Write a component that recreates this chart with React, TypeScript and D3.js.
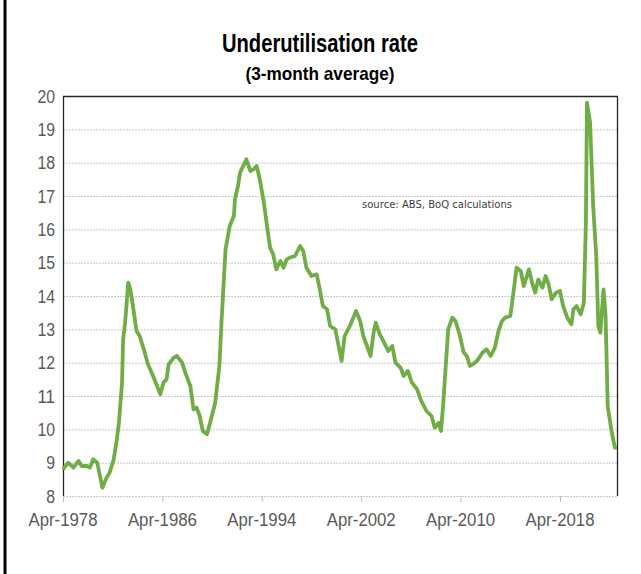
import { useEffect, useRef } from 'react';
import * as d3 from 'd3';

// Underutilisation rate, 3-month average (%)
const dates = [
  '1978-04', '1978-09', '1979-02', '1979-07', '1979-10', '1980-03', '1980-06', '1980-09',
  '1981-01', '1981-06', '1981-10', '1982-01', '1982-05', '1982-08', '1982-10', '1983-01',
  '1983-02', '1983-04', '1983-07', '1983-09', '1983-12', '1984-03', '1984-06', '1984-10',
  '1985-02', '1985-07', '1986-02', '1986-05', '1986-08', '1986-10', '1987-03', '1987-06',
  '1987-11', '1988-02', '1988-07', '1988-10', '1989-01', '1989-04', '1989-07', '1989-11',
  '1990-02', '1990-07', '1990-11', '1991-01', '1991-05', '1991-09', '1992-01', '1992-02',
  '1992-05', '1992-07', '1993-01', '1993-05', '1993-08', '1993-11', '1994-02', '1994-06',
  '1994-09', '1994-12', '1995-03', '1995-06', '1995-10', '1996-01', '1996-04', '1996-07',
  '1996-12', '1997-05', '1997-08', '1997-11', '1998-04', '1998-09', '1998-12', '1999-03',
  '1999-07', '1999-10', '2000-03', '2000-09', '2000-12', '2001-05', '2001-11', '2002-03',
  '2002-06', '2002-09', '2003-01', '2003-04', '2003-06', '2003-10', '2004-03', '2004-06',
  '2004-10', '2005-01', '2005-06', '2005-09', '2006-01', '2006-05', '2006-10', '2007-02',
  '2007-07', '2007-12', '2008-03', '2008-07', '2008-09', '2008-11', '2009-02', '2009-04',
  '2009-08', '2009-11', '2010-03', '2010-07', '2010-10', '2011-01', '2011-06', '2011-09',
  '2012-01', '2012-05', '2012-09', '2013-01', '2013-05', '2013-08', '2013-11', '2014-04',
  '2014-07', '2014-10', '2015-02', '2015-05', '2015-10', '2016-01', '2016-04', '2016-07',
  '2016-11', '2017-02', '2017-05', '2017-08', '2017-12', '2018-04', '2018-07', '2018-11',
  '2019-03', '2019-05', '2019-08', '2019-12', '2020-03', '2020-05', '2020-06', '2020-09',
  '2020-12', '2021-03', '2021-05', '2021-07', '2021-10', '2021-12', '2022-02', '2022-06',
  '2022-09', '2022-11',
];

const rates = [
  8.8, 9.0, 8.85, 9.05, 8.9, 8.9, 8.85, 9.1,
  9.0, 8.25, 8.55, 8.7, 9.1, 9.7, 10.2, 11.4,
  12.7, 13.2, 14.4, 14.2, 13.6, 12.95, 12.8, 12.4,
  11.95, 11.6, 11.05, 11.4, 11.5, 11.95, 12.15, 12.2,
  12.0, 11.7, 11.3, 10.6, 10.65, 10.4, 9.95, 9.85,
  10.2, 10.8, 11.9, 13.2, 15.4, 16.1, 16.4, 16.9,
  17.3, 17.7, 18.1, 17.75, 17.8, 17.9, 17.5, 16.8,
  16.1, 15.45, 15.25, 14.8, 15.05, 14.85, 15.1, 15.15,
  15.2, 15.5, 15.35, 14.85, 14.6, 14.65, 14.2, 13.7,
  13.6, 13.1, 13.0, 12.05, 12.8, 13.1, 13.55, 13.25,
  12.8, 12.55, 12.2, 12.9, 13.2, 12.85, 12.55, 12.35,
  12.5, 12.0, 11.85, 11.6, 11.75, 11.4, 11.2, 10.85,
  10.55, 10.4, 10.05, 10.2, 9.95, 10.7, 12.1, 13.0,
  13.35, 13.25, 12.85, 12.3, 12.2, 11.9, 12.0, 12.1,
  12.3, 12.4, 12.2, 12.45, 13.0, 13.25, 13.35, 13.4,
  14.1, 14.85, 14.75, 14.3, 14.8, 14.4, 14.1, 14.5,
  14.25, 14.6, 14.35, 13.9, 14.1, 14.15, 13.7, 13.35,
  13.15, 13.6, 13.7, 13.45, 13.8, 16.2, 19.8, 19.2,
  16.7, 15.2, 13.1, 12.9, 14.2, 13.4, 10.7, 9.9,
  9.45, 9.45,
];

const yTicks = [8, 9, 10, 11, 12, 13, 14, 15, 16, 17, 18, 19, 20];
const xTickLabels = ['Apr-1978', 'Apr-1986', 'Apr-1994', 'Apr-2002', 'Apr-2010', 'Apr-2018'];

const title = 'Underutilisation rate';
const subtitle = '(3-month average)';
const sourceNote = 'source:  ABS, BoQ calculations';

function App() {
  const svgRef = useRef<SVGSVGElement>(null);

  useEffect(() => {
    const width = 641;
    const height = 574;
    const margin = { top: 96, right: 24, bottom: 78, left: 63 };
    const narrow = '"Liberation Sans Narrow", "Arial Narrow", "Liberation Sans", Arial, sans-serif';

    const svg = d3.select(svgRef.current);
    svg.selectAll('*').remove();
    svg.attr('width', width).attr('height', height);

    const parse = d3.timeParse('%Y-%m');
    const data = dates.map((d, i) => ({ date: parse(d) as Date, rate: rates[i] }));
    const tickDates = xTickLabels.map(l => d3.timeParse('%b-%Y')(l) as Date);

    const x = d3.scaleTime()
      .domain([data[0].date, data[data.length - 1].date])
      .range([margin.left, width - margin.right]);
    const y = d3.scaleLinear()
      .domain([8, 20])
      .range([height - margin.bottom, margin.top]);

    // white background + left frame edge
    svg.append('rect').attr('width', width).attr('height', height).attr('fill', '#fff');
    svg.append('line')
      .attr('x1', 5).attr('x2', 5).attr('y1', 0).attr('y2', height)
      .attr('stroke', '#000').attr('stroke-width', 3);

    // gridlines
    svg.append('g')
      .selectAll('line')
      .data(yTicks)
      .join('line')
      .attr('x1', margin.left).attr('x2', width - margin.right)
      .attr('y1', d => y(d) + 0.5).attr('y2', d => y(d) + 0.5)
      .attr('stroke', '#c9c9c9')
      .attr('stroke-width', 1)
      .attr('stroke-dasharray', '2,1');

    // plot frame: top, right, left in dark
    const [x0, x1] = x.range();
    svg.append('path')
      .attr('d', `M${x0 + 0.5},${y(8)}V${y(20) + 0.5}H${x1 + 0.5}V${y(8)}`)
      .attr('fill', 'none')
      .attr('stroke', '#262626')
      .attr('stroke-width', 1.3);

    // x ticks
    svg.append('g')
      .selectAll('line')
      .data(tickDates)
      .join('line')
      .attr('x1', d => x(d) + 0.5).attr('x2', d => x(d) + 0.5)
      .attr('y1', y(8)).attr('y2', y(8) + 6)
      .attr('stroke', '#bfbfbf');

    svg.append('g')
      .selectAll('text')
      .data(tickDates)
      .join('text')
      .attr('x', d => x(d))
      .attr('y', y(8) + 30)
      .attr('text-anchor', 'middle')
      .attr('fill', '#595959')
      .attr('textLength', 69)
      .attr('lengthAdjust', 'spacingAndGlyphs')
      .style('font-family', narrow)
      .style('font-size', '18px')
      .text((_, i) => xTickLabels[i]);

    // y labels
    svg.append('g')
      .selectAll('text')
      .data(yTicks)
      .join('text')
      .attr('x', margin.left - 8)
      .attr('y', d => y(d) + 6.5)
      .attr('text-anchor', 'end')
      .attr('fill', '#595959')
      .attr('textLength', d => String(d).length * 8.8)
      .attr('lengthAdjust', 'spacingAndGlyphs')
      .style('font-family', narrow)
      .style('font-size', '18px')
      .text(d => d);

    // series
    const line = d3.line<{ date: Date; rate: number }>()
      .x(d => x(d.date))
      .y(d => y(d.rate));

    svg.append('path')
      .datum(data)
      .attr('fill', 'none')
      .attr('stroke', '#70ad47')
      .attr('stroke-width', 3.8)
      .attr('stroke-linejoin', 'round')
      .attr('d', line);

    // titles
    svg.append('text')
      .attr('x', 320).attr('y', 52)
      .attr('text-anchor', 'middle')
      .attr('fill', '#000')
      .attr('textLength', 196)
      .attr('lengthAdjust', 'spacingAndGlyphs')
      .style('font-family', narrow)
      .style('font-weight', 'bold')
      .style('font-size', '25px')
      .text(title);

    svg.append('text')
      .attr('x', 320).attr('y', 80)
      .attr('text-anchor', 'middle')
      .attr('fill', '#000')
      .attr('textLength', 149)
      .attr('lengthAdjust', 'spacingAndGlyphs')
      .style('font-family', narrow)
      .style('font-weight', 'bold')
      .style('font-size', '19px')
      .text(subtitle);

    // source note
    svg.append('text')
      .attr('x', 362).attr('y', 208)
      .attr('fill', '#404040')
      .attr('textLength', 150)
      .attr('lengthAdjust', 'spacingAndGlyphs')
      .style('font-family', '"DejaVu Sans", sans-serif')
      .style('font-size', '10px')
      .text(sourceNote);
  }, []);

  return (
    <div style={{ position: 'absolute', left: 0, top: 0 }}>
      <svg ref={svgRef}></svg>
    </div>
  );
}

export default App;
